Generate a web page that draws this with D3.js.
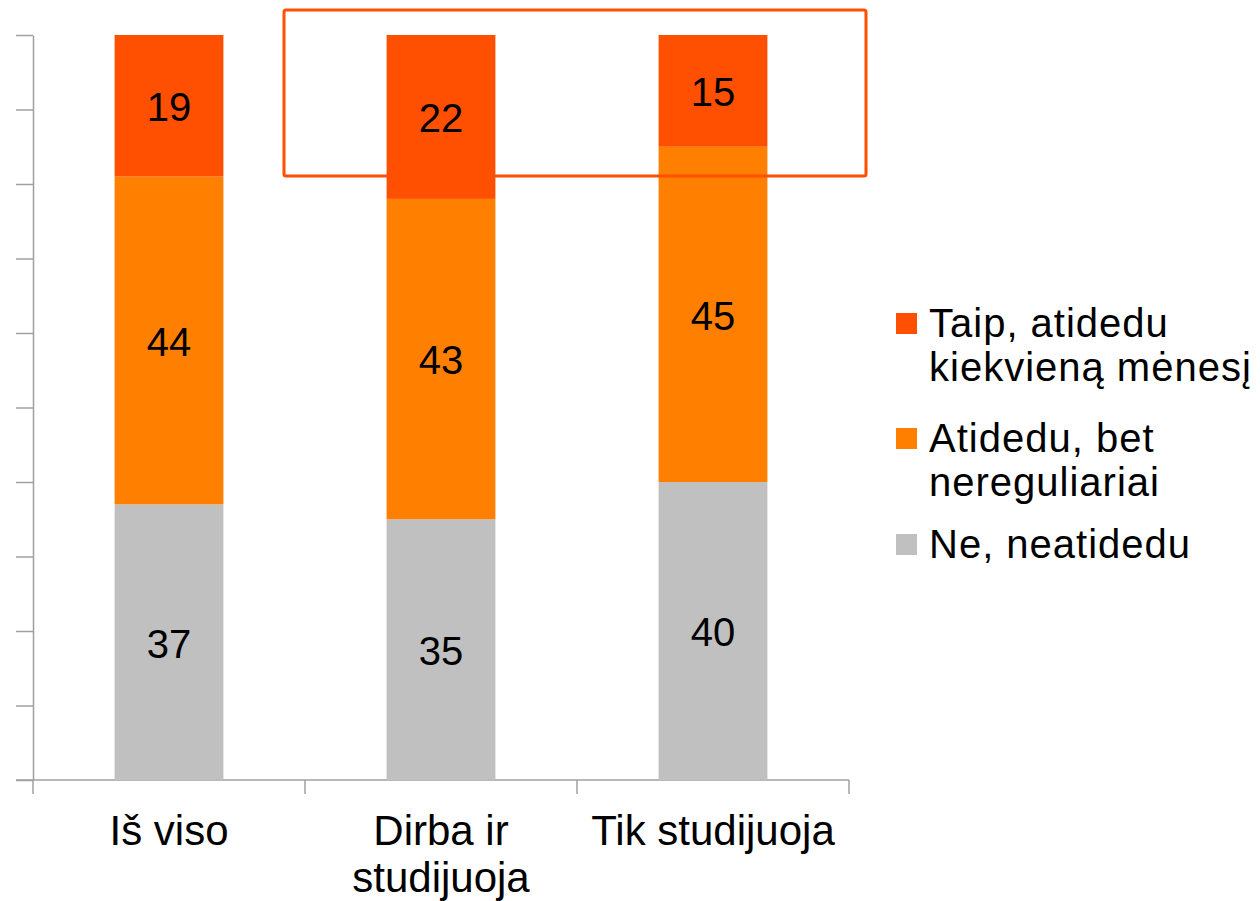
<!DOCTYPE html>
<meta charset="utf-8">
<style>
body { margin: 0; background: #fff; }
text { font-family: "Liberation Sans", Arial, sans-serif; fill: #000; }
.axis path, .axis line { stroke: #a0a0a0; stroke-width: 1.5; }
</style>
<svg width="1260" height="901"></svg>
<script src="https://cdn.jsdelivr.net/npm/d3@7"></script>
<script>
// duomenys
var categories = ["Iš viso", "Dirba ir\nstudijuoja", "Tik studijuoja"];
var ne = [37, 35, 40];
var nereguliariai = [44, 43, 45];
var taip = [19, 22, 15];

var seriesNames = ["Ne, neatidedu", "Atidedu, bet\nnereguliariai", "Taip, atidedu\nkiekvieną mėnesį"];
var seriesColors = ["#c0c0c0", "#ff8000", "#ff4f00"];
var yTicks = [0, 10, 20, 30, 40, 50, 60, 70, 80, 90, 100];

var svg = d3.select("svg");

var rows = categories.map(function(c, i) {
  return {cat: c, ne: ne[i], nereg: nereguliariai[i], taip: taip[i]};
});
var keys = ["ne", "nereg", "taip"];

var x = d3.scaleBand().domain(categories).range([33, 849]);
var y = d3.scaleLinear().domain([0, 100]).range([780, 35]);
var barW = x.bandwidth() * 0.4;

var stack = d3.stack().keys(keys)(rows);

// y ašis
svg.append("g")
    .attr("class", "axis")
    .attr("transform", "translate(33,0)")
    .call(d3.axisLeft(y).tickValues(yTicks).tickSize(17).tickSizeOuter(0).tickFormat(""));

// x ašis
var xa = svg.append("g").attr("class", "axis");
xa.append("line")
    .attr("x1", 16).attr("x2", x.range()[1])
    .attr("y1", y(0)).attr("y2", y(0));
xa.selectAll(".tk")
    .data(categories.map(function(c) { return x(c); }).concat([x.range()[1]]))
  .enter().append("line")
    .attr("x1", function(d) { return d; }).attr("x2", function(d) { return d; })
    .attr("y1", y(0)).attr("y2", y(0) + 14);

// stulpeliai
var layer = svg.selectAll(".layer")
    .data(stack)
  .enter().append("g")
    .attr("fill", function(d, i) { return seriesColors[i]; });

layer.selectAll("rect")
    .data(function(d) { return d; })
  .enter().append("rect")
    .attr("x", function(d) { return x(d.data.cat) + (x.bandwidth() - barW) / 2; })
    .attr("width", barW)
    .attr("y", function(d) { return y(d[1]); })
    .attr("height", function(d) { return y(d[0]) - y(d[1]); });

layer.selectAll("text")
    .data(function(d) { return d; })
  .enter().append("text")
    .attr("x", function(d) { return x(d.data.cat) + x.bandwidth() / 2; })
    .attr("y", function(d) { return (y(d[0]) + y(d[1])) / 2 + 1; })
    .attr("dy", "0.36em")
    .attr("text-anchor", "middle")
    .style("font-size", "40px")
    .text(function(d) { return d[1] - d[0]; });

// kategorijų pavadinimai
svg.selectAll(".cat")
    .data(categories)
  .enter().append("text")
    .attr("class", "cat")
    .attr("text-anchor", "middle")
    .style("font-size", "42px")
  .selectAll("tspan")
    .data(function(d) { return d.split("\n").map(function(t) { return {t: t, c: d}; }); })
  .enter().append("tspan")
    .attr("x", function(d) { return x(d.c) + x.bandwidth() / 2; })
    .attr("y", function(d, i) { return 845 + i * 47; })
    .text(function(d) { return d.t; });

// rėmelis
svg.append("rect")
    .attr("x", 284).attr("y", 10)
    .attr("width", 582).attr("height", 166)
    .attr("rx", 2)
    .attr("fill", "none")
    .attr("stroke", "#ff4f00")
    .attr("stroke-width", 3);

// legenda
var legendItems = [
  {name: seriesNames[2], color: seriesColors[2], y: 337},
  {name: seriesNames[1], color: seriesColors[1], y: 452},
  {name: seriesNames[0], color: seriesColors[0], y: 558}
];
var lg = svg.selectAll(".lg")
    .data(legendItems)
  .enter().append("g")
    .attr("transform", function(d) { return "translate(896," + d.y + ")"; });
lg.append("rect")
    .attr("x", 0).attr("y", -24)
    .attr("width", 21).attr("height", 21)
    .attr("fill", function(d) { return d.color; });
lg.append("text")
    .style("font-size", "40px")
    .style("letter-spacing", "1px")
  .selectAll("tspan")
    .data(function(d) { return d.name.split("\n"); })
  .enter().append("tspan")
    .attr("x", 33)
    .attr("y", function(d, i) { return i * 44; })
    .text(function(d) { return d; });
</script>
